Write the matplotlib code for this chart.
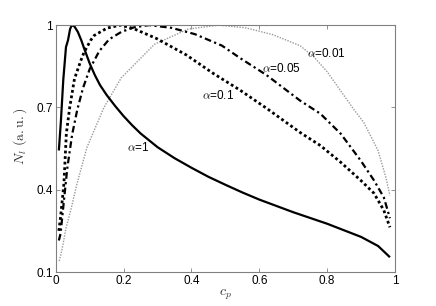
import matplotlib
matplotlib.use("Agg")
import matplotlib.pyplot as plt

plt.rcParams['font.family'] = ['Liberation Sans', 'DejaVu Sans']
plt.rcParams['mathtext.fontset'] = 'cm'

# alpha = 1 (solid)
x_a1 = [0.009, 0.015, 0.022, 0.03, 0.036, 0.042, 0.047, 0.055, 0.065, 0.075, 0.085, 0.1, 0.115,
        0.13, 0.15, 0.175, 0.2, 0.225, 0.25, 0.3, 0.35, 0.4, 0.45, 0.5, 0.55, 0.6, 0.7, 0.8,
        0.9, 0.95, 0.985]
y_a1 = [0.543, 0.65, 0.80, 0.92, 0.945, 0.985, 1.0, 0.995, 0.975, 0.945, 0.91, 0.86, 0.818,
        0.782, 0.745, 0.705, 0.668, 0.635, 0.605, 0.555, 0.515, 0.48, 0.447, 0.418, 0.39, 0.364,
        0.318, 0.276, 0.228, 0.195, 0.154]

# alpha = 0.1 (dotted)
x_a01 = [0.009, 0.014, 0.024, 0.031, 0.041, 0.055, 0.073, 0.083, 0.103, 0.113, 0.151, 0.19,
         0.228, 0.297, 0.385, 0.464, 0.543, 0.621, 0.721, 0.78, 0.84, 0.899, 0.938, 0.967, 0.985]
y_a01 = [0.25, 0.30, 0.423, 0.604, 0.70, 0.804, 0.868, 0.9, 0.945, 0.962, 0.989, 1.0,
         0.988, 0.951, 0.891, 0.824, 0.763, 0.697, 0.608, 0.561, 0.50, 0.434, 0.387, 0.325, 0.263]

# alpha = 0.05 (dash-dot)
x_a005 = [0.009, 0.014, 0.024, 0.034, 0.048, 0.063, 0.08, 0.1, 0.128, 0.157, 0.193, 0.231, 0.275,
          0.341, 0.41, 0.49, 0.543, 0.621, 0.721, 0.78, 0.84, 0.899, 0.938, 0.967, 0.985]
y_a005 = [0.215, 0.24, 0.361, 0.48, 0.60, 0.69, 0.77, 0.84, 0.905, 0.948, 0.975, 0.992, 1.0,
          0.99, 0.967, 0.925, 0.88, 0.818, 0.724, 0.677, 0.604, 0.506, 0.434, 0.372, 0.296]

# alpha = 0.01 (gray dotted)
x_a001 = [0.01, 0.018, 0.03, 0.045, 0.062, 0.092, 0.142, 0.193, 0.291, 0.389, 0.48,
          0.56, 0.64, 0.72, 0.76, 0.80, 0.84, 0.88, 0.908, 0.95, 0.973, 0.985]
y_a001 = [0.14, 0.18, 0.26, 0.33, 0.42, 0.555, 0.70, 0.808, 0.93, 0.985, 1.0,
          0.99, 0.965, 0.925, 0.885, 0.83, 0.76, 0.69, 0.645, 0.543, 0.445, 0.379]

x_ticks = [0, 0.2, 0.4, 0.6, 0.8, 1]
x_ticklabels = ['0', '0.2', '0.4', '0.6', '0.8', '1']
y_ticks = [0.1, 0.4, 0.7, 1.0]
y_ticklabels = ['0.1', '0.4', '0.7', '1']

labels = [r'$\alpha$=1', r'$\alpha$=0.1', r'$\alpha$=0.05', r'$\alpha$=0.01']
label_pos = [(0.243, 0.554), (0.478, 0.743), (0.665, 0.84), (0.798, 0.895)]

fig = plt.figure(figsize=(4.36, 3.06), dpi=100)
ax = fig.add_axes([0.128, 0.111, 0.778, 0.807])

ax.plot(x_a001, y_a001, color='#9a9a9a', lw=1.0, linestyle=(0, (1, 1)))
ax.plot(x_a005, y_a005, color='black', lw=1.6, linestyle=(0, (3, 1.5, 1, 1.5)))
ax.plot(x_a01, y_a01, color='black', lw=2.0, linestyle=(0, (1, 1)))
ax.plot(x_a1, y_a1, color='black', lw=1.6, solid_capstyle='butt')

for t, (lx, ly) in zip(labels, label_pos):
    ax.text(lx, ly, t, fontsize=8.5, ha='center', va='center')

ax.set_xlim(0, 1)
ax.set_ylim(0.1, 1)
ax.set_xticks(x_ticks)
ax.set_xticklabels(x_ticklabels)
ax.set_yticks(y_ticks)
ax.set_yticklabels(y_ticklabels)
ax.tick_params(direction='in', length=3, width=0.6, color='#808080', labelsize=8.5,
               top=True, right=True, pad=2)
for s in ax.spines.values():
    s.set_color('#808080')
    s.set_linewidth(0.8)

ax.set_xlabel(r'$c_p$', fontsize=10, color='#333333', labelpad=1)
ax.set_ylabel(r'$N_l\ \mathrm{(a.u.)}$', fontsize=10, color='#333333')
ax.yaxis.set_label_coords(-0.08, 0.55)

fig.savefig('out.png', dpi=100)
